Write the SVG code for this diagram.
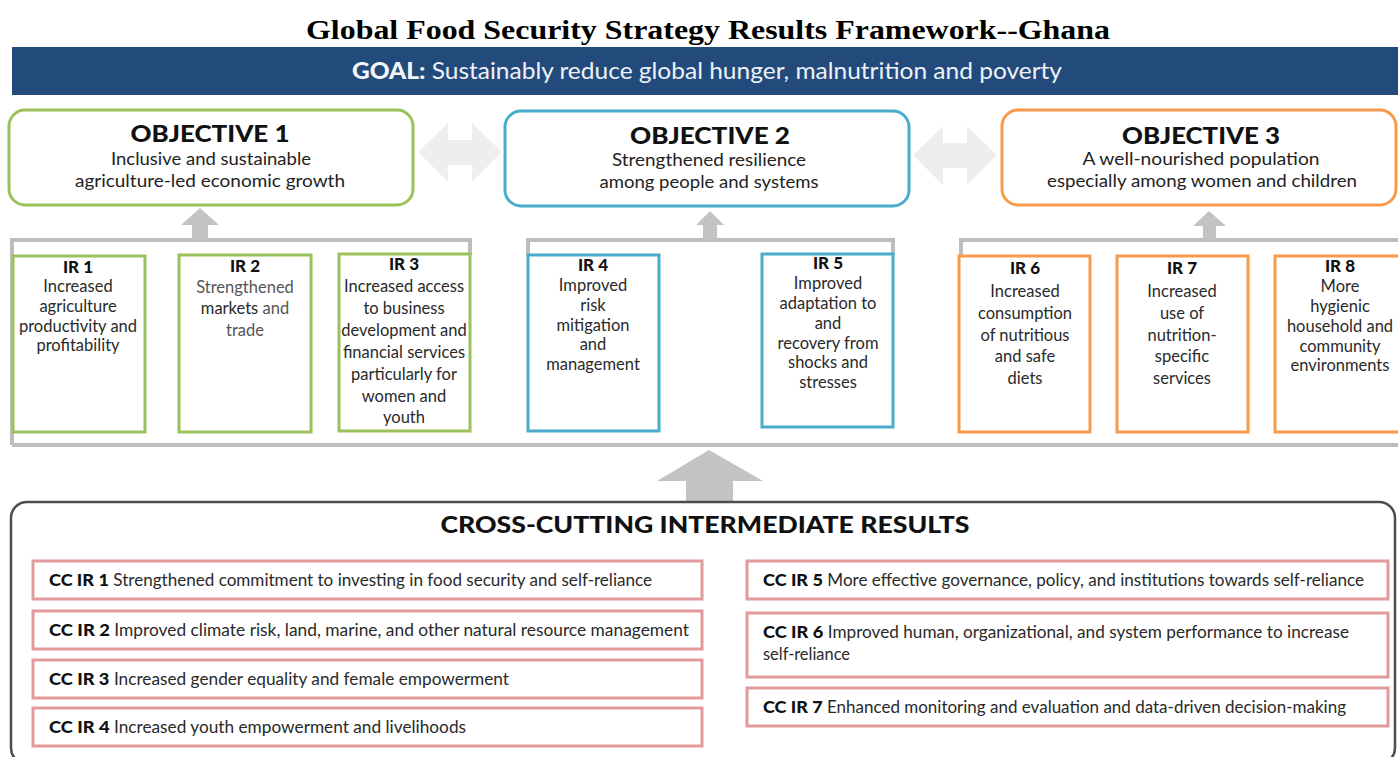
<svg xmlns="http://www.w3.org/2000/svg" width="1398" height="757" viewBox="0 0 1398 757">
  <defs>
    <style>
      .title { font-family: "Liberation Serif", "Times New Roman", serif; font-weight: bold; font-size: 28px; fill: #000; }
      .sans { font-family: Lato, "Open Sans", sans-serif; fill: #222; }
      .goal { font-size: 23px; fill: #eef2f7; }
      .objh { font-size: 23px; font-weight: 900; fill: #111; }
      .objt { font-size: 18px; fill: #222; }
      .irh { font-size: 17px; font-weight: 900; fill: #111; }
      .irt { font-size: 16.5px; fill: #2a2a2a; }
      .cch { font-size: 23px; font-weight: 900; fill: #111; }
      .cct { font-size: 16.5px; fill: #2a2a2a; }
      .ccb { font-weight: 900; font-size: 17.5px; fill: #111; }
      .obj { fill: #fff; stroke-width: 3; }
      .ir { fill: #fff; stroke-width: 3; }
      .green { stroke: #9bc15a; }
      .blue { stroke: #4aaccb; }
      .orange { stroke: #f89a4a; }
      .bracket { fill: none; stroke: #bdbdbd; stroke-width: 4; }
      .uparrow { fill: #c3c3c3; }
      .dbl { fill: #eeeeee; }
      .cc { fill: #fff; stroke: #e39a9c; stroke-width: 3; }
    </style>
  </defs>

  <rect width="1398" height="757" fill="#fff"/>

  <text class="title" x="708" y="39" text-anchor="middle" textLength="804" lengthAdjust="spacingAndGlyphs">Global Food Security Strategy Results Framework--Ghana</text>

  <!-- goal banner -->
  <g id="goal">
    <rect x="12" y="47" width="1386" height="48" fill="#224a7b"/>
    <text class="sans goal" x="352" y="79" textLength="710" lengthAdjust="spacingAndGlyphs"><tspan font-weight="900" fill="#f2f5f9">GOAL:</tspan> Sustainably reduce global hunger, malnutrition and poverty</text>
  </g>

  <!-- connectors: brackets, arrows, baseline -->
  <g id="connectors">
    <path class="bracket" d="M12 445 V240 H470 V255"/>
    <path class="bracket" d="M528 255 V240 H893 V255"/>
    <path class="bracket" d="M961 255 V240 H1398"/>
    <path class="bracket" d="M12 445 H1398"/>
    <polygon class="uparrow" points="200,208 219,225 208,225 208,240 192,240 192,225 181,225"/>
    <polygon class="uparrow" points="710,211 724,225 717,225 717,240 703,240 703,225 696,225"/>
    <polygon class="uparrow" points="1209,211 1226,226 1216,226 1216,240 1203,240 1203,226 1193,226"/>
    <polygon class="uparrow" points="709,450 763,481 733,481 733,502 686,502 686,481 657,481"/>
    <polygon class="dbl" points="418,152 448,123 448,140 472,140 472,123 502,152 472,182 472,165 448,165 448,182"/>
    <polygon class="dbl" points="913,155 943,126 943,143 967,143 967,126 997,155 967,185 967,168 943,168 943,185"/>
  </g>

  <!-- objectives -->
  <g id="objective1">
    <rect class="obj green" x="9" y="110" width="404" height="95" rx="16"/>
    <text class="sans objh" x="210" y="142" text-anchor="middle" textLength="159" lengthAdjust="spacingAndGlyphs">OBJECTIVE 1</text>
    <text class="sans objt" x="211" y="165" text-anchor="middle" textLength="200" lengthAdjust="spacingAndGlyphs">Inclusive and sustainable</text>
    <text class="sans objt" x="210" y="187" text-anchor="middle" textLength="270" lengthAdjust="spacingAndGlyphs">agriculture-led economic growth</text>
  </g>
  <g id="objective2">
    <rect class="obj blue" x="505" y="111" width="404" height="95" rx="16"/>
    <text class="sans objh" x="710" y="144" text-anchor="middle" textLength="160" lengthAdjust="spacingAndGlyphs">OBJECTIVE 2</text>
    <text class="sans objt" x="709" y="166" text-anchor="middle" textLength="194" lengthAdjust="spacingAndGlyphs">Strengthened resilience</text>
    <text class="sans objt" x="709" y="188" text-anchor="middle" textLength="219" lengthAdjust="spacingAndGlyphs">among people and systems</text>
  </g>
  <g id="objective3">
    <rect class="obj orange" x="1002" y="110" width="394" height="95" rx="16"/>
    <text class="sans objh" x="1201" y="144" text-anchor="middle" textLength="158" lengthAdjust="spacingAndGlyphs">OBJECTIVE 3</text>
    <text class="sans objt" x="1201" y="165" text-anchor="middle" textLength="237" lengthAdjust="spacingAndGlyphs">A well-nourished population</text>
    <text class="sans objt" x="1202" y="187" text-anchor="middle" textLength="310" lengthAdjust="spacingAndGlyphs">especially among women and children</text>
  </g>

  <!-- intermediate results -->
  <g id="ir1">
    <rect class="ir green" x="13" y="256" width="132" height="176"/>
    <text class="sans irh" x="78" y="273" text-anchor="middle">IR 1</text>
    <text class="sans irt" text-anchor="middle"><tspan x="78" y="292">Increased</tspan><tspan x="78" y="312">agriculture</tspan><tspan x="78" y="332">productivity and</tspan><tspan x="78" y="351">profitability</tspan></text>
  </g>
  <g id="ir2">
    <rect class="ir green" x="179" y="255" width="132" height="177"/>
    <text class="sans irh" x="245" y="272" text-anchor="middle">IR 2</text>
    <text class="sans irt" text-anchor="middle" fill="#555"><tspan x="245" y="293" fill="#555">Strengthened</tspan><tspan x="245" y="314">markets <tspan fill="#555">and</tspan></tspan><tspan x="245" y="336" fill="#555">trade</tspan></text>
  </g>
  <g id="ir3">
    <rect class="ir green" x="339" y="254" width="131" height="177"/>
    <text class="sans irh" x="404" y="270" text-anchor="middle">IR 3</text>
    <text class="sans irt" text-anchor="middle"><tspan x="404" y="292">Increased access</tspan><tspan x="404" y="314">to business</tspan><tspan x="404" y="336">development and</tspan><tspan x="404" y="358">financial services</tspan><tspan x="404" y="380">particularly for</tspan><tspan x="404" y="402">women and</tspan><tspan x="404" y="423">youth</tspan></text>
  </g>
  <g id="ir4">
    <rect class="ir blue" x="528" y="255" width="131" height="176"/>
    <text class="sans irh" x="593" y="271" text-anchor="middle">IR 4</text>
    <text class="sans irt" text-anchor="middle"><tspan x="593" y="291">Improved</tspan><tspan x="593" y="311">risk</tspan><tspan x="593" y="331">mitigation</tspan><tspan x="593" y="350">and</tspan><tspan x="593" y="370">management</tspan></text>
  </g>
  <g id="ir5">
    <rect class="ir blue" x="762" y="254" width="131" height="173"/>
    <text class="sans irh" x="828" y="269" text-anchor="middle">IR 5</text>
    <text class="sans irt" text-anchor="middle"><tspan x="828" y="289">Improved</tspan><tspan x="828" y="309">adaptation to</tspan><tspan x="828" y="329">and</tspan><tspan x="828" y="349">recovery from</tspan><tspan x="828" y="368">shocks and</tspan><tspan x="828" y="388">stresses</tspan></text>
  </g>
  <g id="ir6">
    <rect class="ir orange" x="959" y="256" width="131" height="176"/>
    <text class="sans irh" x="1025" y="274" text-anchor="middle">IR 6</text>
    <text class="sans irt" text-anchor="middle"><tspan x="1025" y="297">Increased</tspan><tspan x="1025" y="319">consumption</tspan><tspan x="1025" y="341">of nutritious</tspan><tspan x="1025" y="362">and safe</tspan><tspan x="1025" y="384">diets</tspan></text>
  </g>
  <g id="ir7">
    <rect class="ir orange" x="1117" y="256" width="131" height="176"/>
    <text class="sans irh" x="1182" y="274" text-anchor="middle">IR 7</text>
    <text class="sans irt" text-anchor="middle"><tspan x="1182" y="297">Increased</tspan><tspan x="1182" y="319">use of</tspan><tspan x="1182" y="341">nutrition-</tspan><tspan x="1182" y="362">specific</tspan><tspan x="1182" y="384">services</tspan></text>
  </g>
  <g id="ir8">
    <rect class="ir orange" x="1275" y="256" width="130" height="176"/>
    <text class="sans irh" x="1340" y="272" text-anchor="middle">IR 8</text>
    <text class="sans irt" text-anchor="middle"><tspan x="1340" y="292">More</tspan><tspan x="1340" y="312">hygienic</tspan><tspan x="1340" y="332">household and</tspan><tspan x="1340" y="352">community</tspan><tspan x="1340" y="371">environments</tspan></text>
  </g>

  <!-- cross-cutting results -->
  <g id="crosscutting">
    <rect x="11" y="502" width="1384" height="262" rx="16" fill="#fff" stroke="#4d4d4d" stroke-width="2.5"/>
    <text class="sans cch" x="705" y="533" text-anchor="middle" textLength="529" lengthAdjust="spacingAndGlyphs">CROSS-CUTTING INTERMEDIATE RESULTS</text>
  </g>
  <g id="ccir1">
    <rect class="cc" x="33" y="561" width="669" height="38"/>
    <text class="sans cct" x="49" y="586" textLength="603" lengthAdjust="spacingAndGlyphs"><tspan class="ccb">CC IR 1</tspan> Strengthened commitment to investing in food security and self-reliance</text>
  </g>
  <g id="ccir2">
    <rect class="cc" x="33" y="611" width="669" height="38"/>
    <text class="sans cct" x="49" y="636" textLength="640" lengthAdjust="spacingAndGlyphs"><tspan class="ccb">CC IR 2</tspan> Improved climate risk, land, marine, and other natural resource management</text>
  </g>
  <g id="ccir3">
    <rect class="cc" x="33" y="660" width="669" height="38"/>
    <text class="sans cct" x="49" y="685" textLength="460" lengthAdjust="spacingAndGlyphs"><tspan class="ccb">CC IR 3</tspan> Increased gender equality and female empowerment</text>
  </g>
  <g id="ccir4">
    <rect class="cc" x="33" y="708" width="669" height="38"/>
    <text class="sans cct" x="49" y="733" textLength="417" lengthAdjust="spacingAndGlyphs"><tspan class="ccb">CC IR 4</tspan> Increased youth empowerment and livelihoods</text>
  </g>
  <g id="ccir5">
    <rect class="cc" x="747" y="561" width="641" height="38"/>
    <text class="sans cct" x="763" y="586" textLength="601" lengthAdjust="spacingAndGlyphs"><tspan class="ccb">CC IR 5</tspan> More effective governance, policy, and institutions towards self-reliance</text>
  </g>
  <g id="ccir6">
    <rect class="cc" x="747" y="613" width="641" height="64"/>
    <text class="sans cct" x="763" y="638" textLength="586" lengthAdjust="spacingAndGlyphs"><tspan class="ccb">CC IR 6</tspan> Improved human, organizational, and system performance to increase</text>
    <text class="sans cct" x="763" y="660" textLength="87" lengthAdjust="spacingAndGlyphs">self-reliance</text>
  </g>
  <g id="ccir7">
    <rect class="cc" x="747" y="688" width="641" height="38"/>
    <text class="sans cct" x="763" y="713" textLength="583" lengthAdjust="spacingAndGlyphs"><tspan class="ccb">CC IR 7</tspan> Enhanced monitoring and evaluation and data-driven decision-making</text>
  </g>
</svg>
